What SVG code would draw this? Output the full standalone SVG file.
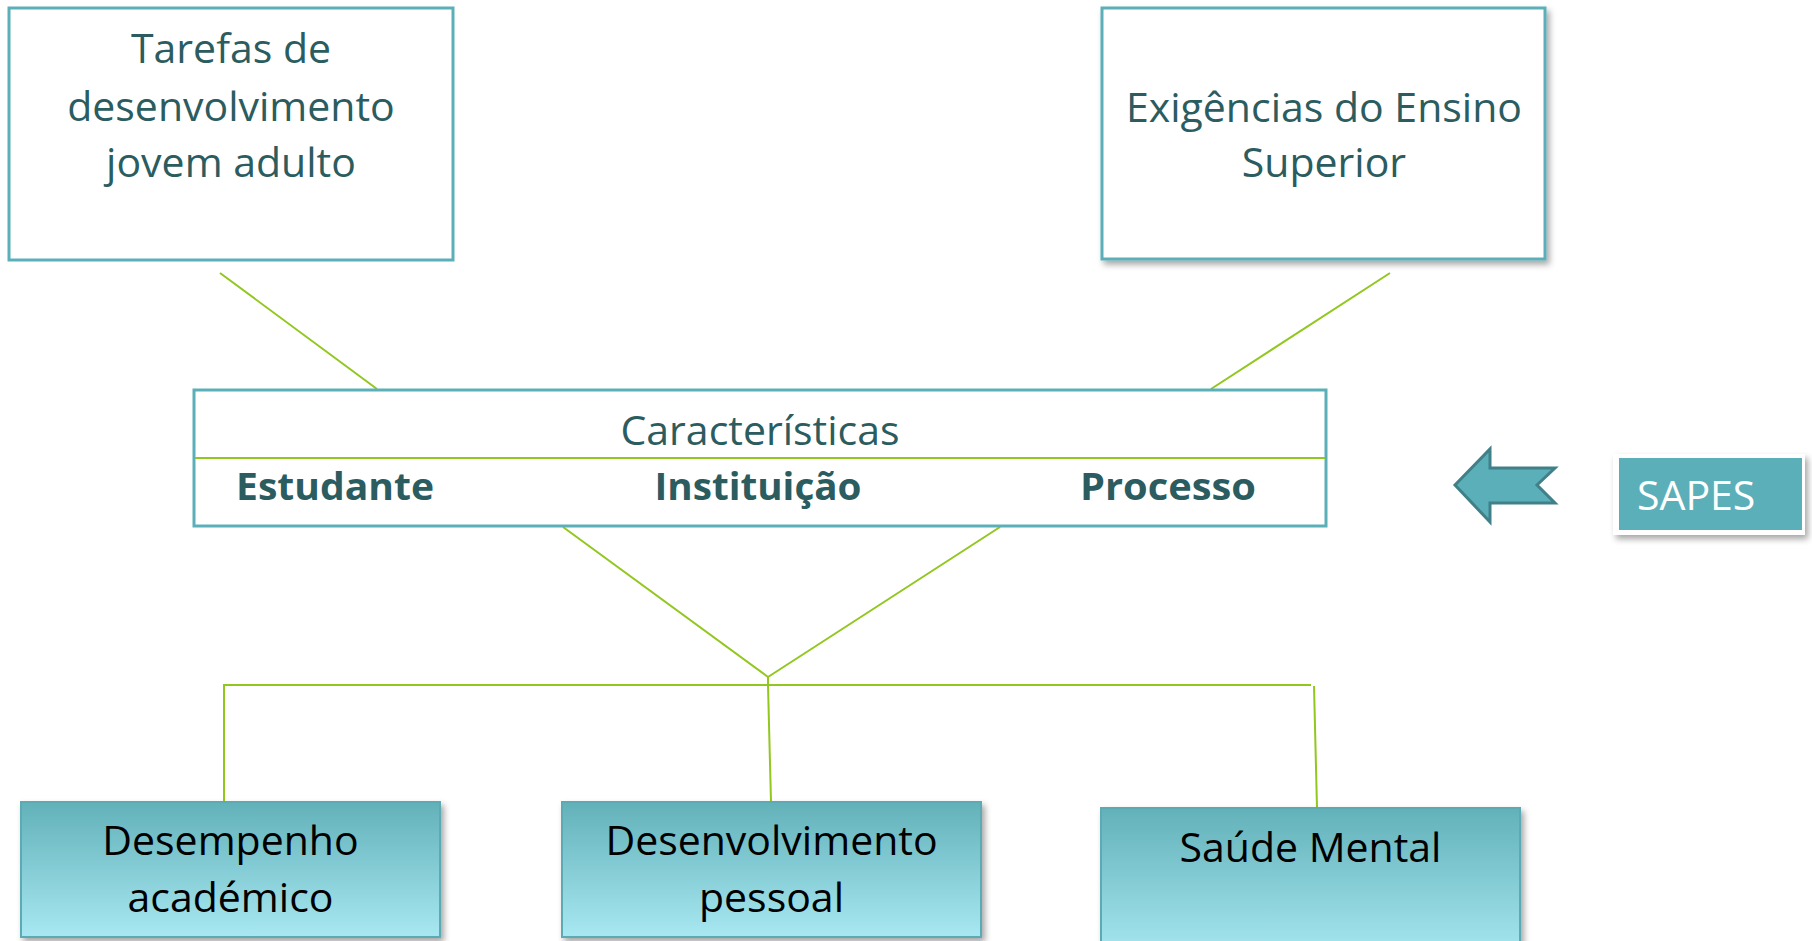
<svg xmlns="http://www.w3.org/2000/svg" width="1812" height="941" viewBox="0 0 1812 941">
<defs>
<style>
.box{fill:#ffffff;stroke:#5BAFB8;stroke-width:3}
.t{font-family:"Open Sans","Noto Sans",sans-serif;font-size:41px;fill:#2B5C60;text-anchor:middle}
.tb{font-family:"Open Sans","Noto Sans",sans-serif;font-size:38px;font-weight:bold;fill:#2B5C60;text-anchor:middle}
.tk{font-family:"Open Sans","Noto Sans",sans-serif;font-size:41px;fill:#000000;text-anchor:middle}
.conn{stroke:#92C71F;stroke-width:2;fill:none}
.gbox{fill:url(#grad);stroke:#5BAAB3;stroke-width:2}
</style>
<linearGradient id="grad" x1="0" y1="0" x2="0" y2="1">
<stop offset="0" stop-color="#62B1B9"/>
<stop offset="1" stop-color="#A8E8F2"/>
</linearGradient>
<filter id="sh" x="-10%" y="-10%" width="125%" height="130%">
<feDropShadow dx="3" dy="4" stdDeviation="3" flood-color="#000000" flood-opacity="0.35"/>
</filter>
</defs>
<rect width="1812" height="941" fill="#ffffff"/>
<g id="connectors">
<line class="conn" x1="220" y1="273" x2="377" y2="389"/>
<line class="conn" x1="1390" y1="273" x2="1211" y2="389"/>
<line class="conn" x1="563" y1="527" x2="768" y2="677"/>
<line class="conn" x1="1000" y1="527" x2="768" y2="677"/>
<line class="conn" x1="768" y1="677" x2="768" y2="685"/>
<line class="conn" x1="223" y1="685" x2="1311" y2="685"/>
<line class="conn" x1="224" y1="685" x2="224" y2="802"/>
<line class="conn" x1="768" y1="685" x2="771" y2="802"/>
<line class="conn" x1="1314" y1="686" x2="1317" y2="808"/>
</g>
<g id="tarefas">
<rect class="box" x="9" y="8" width="444" height="252"/>
<text class="t" x="231" y="63">Tarefas de</text>
<text class="t" x="231" y="121">desenvolvimento</text>
<text class="t" x="231" y="177">jovem adulto</text>
</g>
<g id="exigencias">
<rect class="box" x="1102" y="8" width="443" height="251" filter="url(#sh)"/>
<text class="t" x="1324" y="122">Exigências do Ensino</text>
<text class="t" x="1324" y="177">Superior</text>
</g>
<g id="caracteristicas">
<rect class="box" x="194" y="390" width="1132" height="136"/>
<line x1="195" y1="458" x2="1325" y2="458" stroke="#92C71F" stroke-width="2"/>
<text class="t" x="760" y="445">Características</text>
<text class="tb" x="335" y="500" textLength="198" lengthAdjust="spacingAndGlyphs">Estudante</text>
<text class="tb" x="758" y="500" textLength="207" lengthAdjust="spacingAndGlyphs">Instituição</text>
<text class="tb" x="1168" y="500" textLength="176" lengthAdjust="spacingAndGlyphs">Processo</text>
</g>
<g id="sapes-arrow">
<polygon points="1455,485 1490,449 1490,468 1555,468 1537,485 1555,503 1490,503 1490,522" fill="#5BAFB8" stroke="#3F8089" stroke-width="3" stroke-linejoin="miter"/>
</g>
<g id="sapes">
<rect x="1613" y="454" width="192" height="81" fill="#ffffff" filter="url(#sh)"/>
<rect x="1619" y="458" width="183" height="72" fill="#5BAFB8"/>
<text x="1637" y="510" font-family="Open Sans, Noto Sans, sans-serif" font-size="41" fill="#ffffff">SAPES</text>
</g>
<g id="desempenho">
<rect class="gbox" x="21" y="802" width="419" height="135" filter="url(#sh)"/>
<text class="tk" x="230.5" y="855">Desempenho</text>
<text class="tk" x="230.5" y="912">académico</text>
</g>
<g id="desenvolvimento">
<rect class="gbox" x="562" y="802" width="419" height="135" filter="url(#sh)"/>
<text class="tk" x="771.5" y="855">Desenvolvimento</text>
<text class="tk" x="771.5" y="912">pessoal</text>
</g>
<g id="saude">
<rect class="gbox" x="1101" y="808" width="419" height="150" filter="url(#sh)"/>
<text class="tk" x="1310.5" y="862">Saúde Mental</text>
</g>
</svg>
